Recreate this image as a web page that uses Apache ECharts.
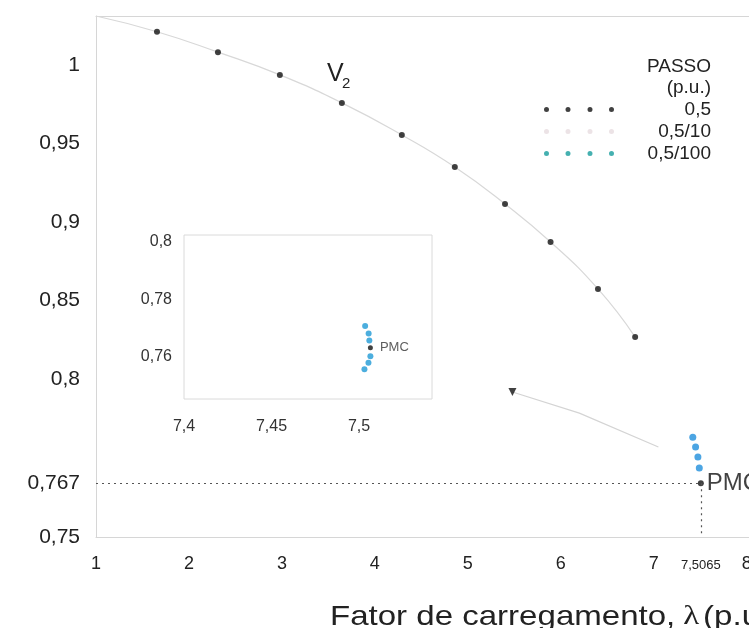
<!DOCTYPE html>
<html>
<head>
<meta charset="utf-8">
<script src="https://cdn.jsdelivr.net/npm/echarts@6/dist/echarts.min.js"></script>
<style>
html, body { margin: 0; padding: 0; background: #fff; overflow: hidden; }
#chart { width: 800px; height: 628px; }
</style>
</head>
<body>
<div id="chart"></div>
<script>
// ramo superior, passo 0,5 (pontos pretos)
var lambda05 = [1.656, 2.312, 2.978, 3.645, 4.29, 4.86, 5.40, 5.89, 6.40, 6.80];
var v05 = [1.021, 1.008, 0.9935, 0.9757, 0.9553, 0.9349, 0.9114, 0.8872, 0.8573, 0.8267];
// traço claro, passo 0,5/10
var lambda10 = [1, 1.656, 2.312, 2.978, 3.645, 4.29, 4.86, 5.40, 5.89, 6.40, 6.80];
var v10 = [1.031, 1.021, 1.008, 0.9935, 0.9757, 0.9553, 0.9349, 0.9114, 0.8872, 0.8573, 0.8267];
// ramo inferior (volta a partir do PMC)
var lambdaInf = [5.48, 6.2, 7.05];
var vInf = [0.7959, 0.7892, 0.7785];
// passo 0,5/100 perto do PMC
var lambda100 = [7.42, 7.45, 7.475, 7.49];
var v100 = [0.7816, 0.7785, 0.7753, 0.7718];
// ponto de maximo carregamento
var pmcLambda = 7.5065;
var pmcV = 0.767;
// detalhe (janela interna)
var lambdaZoom = [7.5035, 7.5055, 7.5059, 7.5065, 7.5054, 7.5031];
var vZoom = [0.7708, 0.7682, 0.7657, 0.7603, 0.7580, 0.7557];
var pmcZoom = [7.5065, 0.7632];

// marcas dos eixos
var xTicks = [1, 2, 3, 4, 5, 6, 7, 8];
var yTicksTop = [0.8, 0.85, 0.9, 0.95, 1];
var yTicksBottom = [0.75, 0.767];
var zoomXTicks = [7.4, 7.45, 7.5];
var zoomYTicks = [0.76, 0.78, 0.8];

var fonte = 'Liberation Sans, Arial, sans-serif';
var corBorda = '#d6d6d6';
var iconePontos = 'path://M0,2.5a2.5,2.5 0 1,0 5,0a2.5,2.5 0 1,0 -5,0z' +
    'M21.5,2.5a2.5,2.5 0 1,0 5,0a2.5,2.5 0 1,0 -5,0z' +
    'M43.5,2.5a2.5,2.5 0 1,0 5,0a2.5,2.5 0 1,0 -5,0z' +
    'M65,2.5a2.5,2.5 0 1,0 5,0a2.5,2.5 0 1,0 -5,0z';

function virgula(v) { return String(v).replace('.', ','); }
function pares(xs, ys) { return xs.map(function (x, i) { return [x, ys[i]]; }); }

var chart = echarts.init(document.getElementById('chart'));

var option = {
    animation: false,
    textStyle: { fontFamily: fonte },
    grid: [
        { left: 96, top: 16, width: 660, height: 363 },
        { left: 96, top: 379, width: 660, height: 158 },
        { left: 184, top: 235, width: 248, height: 164, show: true, borderColor: '#dadada', borderWidth: 1 }
    ],
    xAxis: [
        {
            gridIndex: 0, type: 'value', min: 1, max: 8.1, position: 'top',
            axisLine: { show: true, lineStyle: { color: corBorda } },
            axisTick: { show: false }, axisLabel: { show: false }, splitLine: { show: false }
        },
        {
            gridIndex: 1, type: 'value', min: 1, max: 8.1,
            axisLine: { show: true, onZero: false, lineStyle: { color: corBorda } },
            axisTick: { show: false }, splitLine: { show: false },
            axisLabel: {
                customValues: xTicks.concat([pmcLambda]),
                margin: 18, fontSize: 18, color: '#222',
                formatter: function (v) {
                    return v === pmcLambda ? '{s|' + virgula(v) + '}' : virgula(v);
                },
                rich: { s: { fontSize: 13, color: '#222', padding: [4, 0, 0, 0] } }
            }
        },
        {
            gridIndex: 2, type: 'value', min: 7.4, max: 7.5417,
            axisLine: { show: false }, axisTick: { show: false }, splitLine: { show: false },
            axisLabel: { customValues: zoomXTicks, margin: 20, fontSize: 16, color: '#333', formatter: virgula }
        }
    ],
    yAxis: [
        {
            gridIndex: 0, type: 'value', min: 0.8, max: 1.031,
            axisLine: { show: true, lineStyle: { color: corBorda } },
            axisTick: { show: false }, splitLine: { show: false },
            axisLabel: { customValues: yTicksTop, margin: 16, fontSize: 21, color: '#222', formatter: virgula }
        },
        {
            gridIndex: 1, type: 'value', min: 0.75, max: 0.8,
            axisLine: { show: true, onZero: false, lineStyle: { color: corBorda } },
            axisTick: { show: false }, splitLine: { show: false },
            axisLabel: { customValues: yTicksBottom, margin: 16, fontSize: 21, color: '#222', formatter: virgula }
        },
        {
            gridIndex: 2, type: 'value', min: 0.7454, max: 0.8024,
            axisLine: { show: false }, axisTick: { show: false }, splitLine: { show: false },
            axisLabel: { customValues: zoomYTicks, margin: 12, fontSize: 16, color: '#333', formatter: virgula }
        }
    ],
    legend: {
        orient: 'vertical', left: 539, top: 95, itemGap: 3,
        itemWidth: 70, itemHeight: 5, selectedMode: false,
        formatter: function (n) { return '{r|' + n + '}'; },
        textStyle: { rich: { r: { width: 92, align: 'right', fontSize: 19, lineHeight: 22, color: '#222' } } },
        data: [
            { name: '0,5', icon: iconePontos, itemStyle: { color: '#111', borderWidth: 0 } },
            { name: '0,5/10', icon: iconePontos, itemStyle: { color: '#ece3e6', borderWidth: 0 } },
            { name: '0,5/100', icon: iconePontos, itemStyle: { color: '#179c9c', borderWidth: 0 } }
        ]
    },
    graphic: [
        { type: 'text', x: 711, y: 67, style: { text: 'PASSO', fontSize: 19, fontFamily: fonte, fill: '#222', align: 'right', verticalAlign: 'middle' } },
        { type: 'text', x: 711, y: 88, style: { text: '(p.u.)', fontSize: 19, fontFamily: fonte, fill: '#222', align: 'right', verticalAlign: 'middle' } },
        { type: 'text', x: 327, y: 74, style: { text: 'V', fontSize: 25, fontFamily: fonte, fill: '#222', verticalAlign: 'middle' } },
        { type: 'text', x: 342, y: 84, style: { text: '2', fontSize: 15, fontFamily: fonte, fill: '#222', verticalAlign: 'middle' } },
        {
            type: 'text', x: 330, y: 617, scaleX: 1.18,
            style: {
                text: '{a|Fator de carregamento,}  {l|λ} {a|(p.u.)}',
                verticalAlign: 'middle',
                rich: {
                    a: { fontSize: 28, fontFamily: fonte, fill: '#222' },
                    l: { fontSize: 28, fontFamily: 'Liberation Serif, serif', fill: '#222' }
                }
            }
        }
    ],
    series: [
        {
            name: '0,5/10', type: 'line', xAxisIndex: 0, yAxisIndex: 0,
            data: pares(lambda10, v10), symbol: 'none', smooth: true, silent: true, z: 1,
            lineStyle: { color: '#d8d8d8', width: 1.2 }, itemStyle: { color: '#ece3e6' }
        },
        {
            name: '0,5/10', type: 'line', xAxisIndex: 1, yAxisIndex: 1,
            data: pares(lambdaInf, vInf), symbol: 'none', silent: true, z: 1,
            lineStyle: { color: '#d4d4d4', width: 1.2 }, itemStyle: { color: '#ece3e6' }
        },
        {
            name: 'seta', type: 'scatter', xAxisIndex: 1, yAxisIndex: 1,
            data: [[lambdaInf[0], vInf[0]]], symbol: 'triangle', symbolRotate: 180, symbolSize: 8,
            itemStyle: { color: '#111' }
        },
        {
            name: '0,5', type: 'scatter', xAxisIndex: 0, yAxisIndex: 0,
            data: pares(lambda05, v05), symbolSize: 6, itemStyle: { color: '#111' }
        },
        {
            name: '0,5/100', type: 'scatter', xAxisIndex: 1, yAxisIndex: 1,
            data: pares(lambda100, v100), symbolSize: 7, itemStyle: { color: '#1f8fdc' }
        },
        {
            name: 'PMC', type: 'scatter', xAxisIndex: 1, yAxisIndex: 1,
            data: [[pmcLambda, pmcV]], symbolSize: 6, itemStyle: { color: '#111' },
            label: { show: true, position: 'right', distance: 3, formatter: 'PMC', fontSize: 24, color: '#111' },
            markLine: {
                silent: true, symbol: 'none', label: { show: false },
                lineStyle: { color: '#555', type: [2, 4], width: 1.2 },
                data: [
                    [{ coord: [xTicks[0], pmcV] }, { coord: [pmcLambda, pmcV] }],
                    [{ coord: [pmcLambda, pmcV] }, { coord: [pmcLambda, yTicksBottom[0]] }]
                ]
            }
        },
        {
            name: '0,5/100', type: 'scatter', xAxisIndex: 2, yAxisIndex: 2,
            data: pares(lambdaZoom, vZoom), symbolSize: 6, itemStyle: { color: '#1f9ad6' }
        },
        {
            name: 'PMC detalhe', type: 'scatter', xAxisIndex: 2, yAxisIndex: 2,
            data: [pmcZoom], symbolSize: 5, itemStyle: { color: '#111' },
            label: { show: true, position: 'right', distance: 7, formatter: 'PMC', fontSize: 13, color: '#333' }
        }
    ]
};

chart.setOption(option);
</script>
</body>
</html>
